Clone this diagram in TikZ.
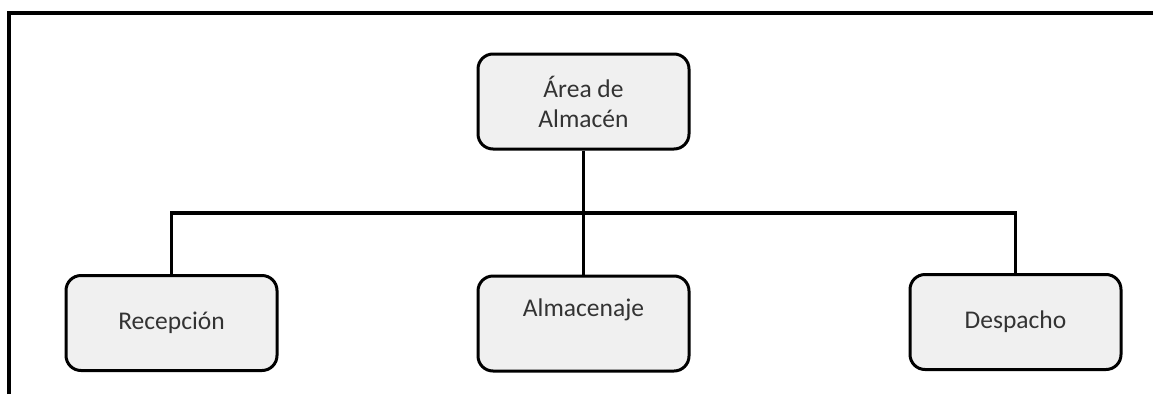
\documentclass[tikz,border=0pt]{standalone}
\usepackage{fontspec}
\setmainfont{Carlito}
\begin{document}
\begin{tikzpicture}[x=1pt,y=1pt,
  unitbox/.style={draw=black, line width=3pt, fill=black!6, rounded corners=15pt,
    minimum width=211pt, minimum height=95pt, inner sep=0pt, align=center,
    text=black!80, font=\fontsize{25.5}{30}\selectfont},
  boxtext/.style={text=black!80, font=\fontsize{25.5}{30}\selectfont, inner sep=0pt},
  conn/.style={draw=black, line width=3.5pt},
  frame/.style={draw=black, line width=3.5pt}]
\useasboundingbox (0,0) rectangle (1153,-394);
% open frame on the top and left sides
\draw[frame] (9,-394) -- (9,-13) -- (1153,-13);
% organisation chart
\node[unitbox] (area) at (583.5,-101.5) {Área de\\Almacén};
\node[unitbox] (rec) at (171.5,-323) {Recepción};
\node[unitbox] (alm) at (583.5,-323.5) {};
\node[boxtext] (almtxt) at (583.5,-310) {Almacenaje};
\node[unitbox] (desp) at (1015.5,-322) {Despacho};
\coordinate (bus) at (583.5,-213);
\draw[conn] (area.south) -- (alm.north);
\draw[conn] (rec.north) |- (bus) -| (desp.north);
\end{tikzpicture}
\end{document}
